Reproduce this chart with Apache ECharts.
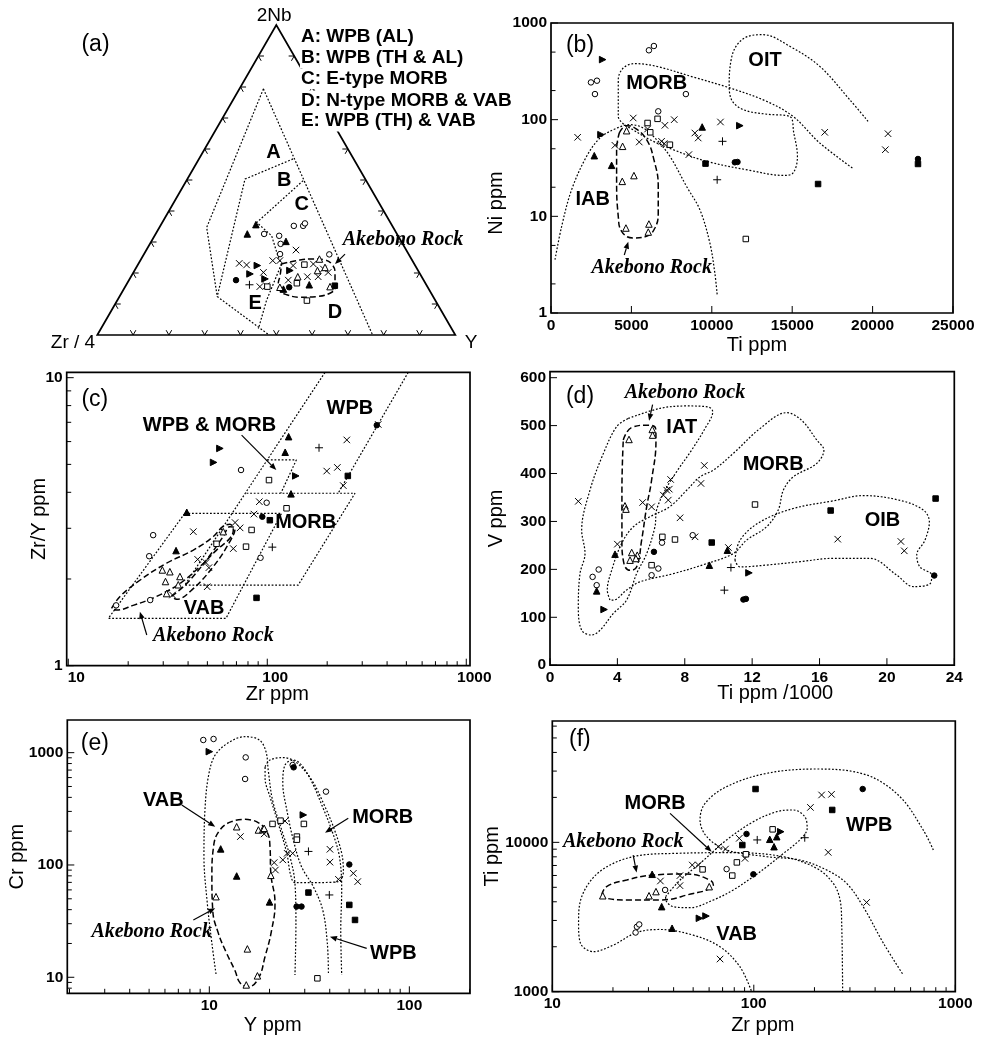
<!DOCTYPE html>
<html>
<head>
<meta charset="utf-8">
<script src="https://cdn.jsdelivr.net/npm/echarts@6/dist/echarts.min.js"></script>
<style>
  html, body { margin: 0; padding: 0; background: #fff; }
  #chart { width: 986px; height: 1040px; }
</style>
</head>
<body>
<div id="chart"></div>
<script>
// ======================= DATA =======================
// (a) Zr/4 - 2Nb - Y ternary; compositions as [2Nb, Zr/4, Y] in percent
const ptsA = {
  openCircle:   [[35.2,27.5,37.3],[35.2,24.9,39.9],[36.0,24.0,40.0],[32.0,33.2,34.8],[29.4,34.1,36.5],[26.1,35.9,38.0],[32.6,37.1,30.3],[26.0,22.2,51.8]],
  filledTri:    [[35.6,37.9,26.5],[32.6,41.8,25.6],[30.2,32.2,37.6],[16.2,32.7,51.1],[14.8,40.6,44.6]],
  filledRight:  [[22.4,44.1,33.5],[19.7,47.5,32.8],[18.1,44.1,37.8],[20.8,35.8,43.4]],
  cross:        [[27.4,30.8,41.8],[23.1,48.8,28.1],[22.6,47.0,30.4],[24.0,39.0,37.0],[24.0,37.0,39.0],[20.2,43.5,36.3],[15.6,46.8,37.6],[15.9,44.8,39.3],[22.4,34.1,43.5],[18.8,31.9,49.3],[18.8,28.9,52.3],[20.2,25.4,54.4],[22.9,28.2,48.9],[17.7,37.8,44.5],[21.3,26.2,52.5]],
  plus:         [[16.2,49.4,34.4]],
  filledCircle: [[17.7,52.4,29.9],[15.4,38.7,45.9]],
  openSq:       [[15.6,44.7,39.7],[22.7,30.8,46.5],[16.7,35.9,47.4],[11.1,35.9,53.0]],
  openTri:      [[18.8,34.6,46.6],[20.8,28.1,51.1],[24.5,25.7,49.8],[21.8,25.5,52.7],[15.6,27.2,57.2],[15.4,41.3,43.3]],
  filledSq:     [[15.9,25.7,58.4]]
};
const aOuterRight = [[79.4,13.9,6.7],[0,23.1,76.9]];
const aOuterLeft  = [[79.4,13.9,6.7],[34.7,52.1,13.2],[12.4,60.3,27.3],[0,52,48]];
const aFieldB     = [[56.8,16.9,26.3],[50.3,33.6,16.1],[12.4,60.3,27.3]];
const aFieldC     = [[49.8,17.6,32.6],[36.3,37.3,26.4],[32.0,35.3,32.7],[25.1,36.9,38.0],[22.9,37.1,40.0]];
const aFieldDE    = [[22.9,37.1,40.0],[11.1,47.2,41.7],[2,54,44]];
const aRock = [[22.9,37.1,40.0],[24.2,31.3,44.5],[24.5,27.4,48.1],[24.2,24.3,51.5],[22.9,23.1,54.0],[20.2,23.5,56.3],[15.4,25.9,58.7],[13.8,27.6,58.6],[12.4,32.5,55.1],[12.2,37.3,50.5],[13.0,40.6,46.4],[14.3,41.8,43.9],[16.5,41.2,42.3],[19.1,39.4,41.5],[22.9,37.1,40.0]];
const ternLegend = ['A: WPB (AL)', 'B: WPB (TH & AL)', 'C: E-type MORB', 'D: N-type MORB & VAB', 'E: WPB (TH) & VAB'];
const ternTicks = [0.1,0.2,0.3,0.4,0.5,0.6,0.7,0.8,0.9];

// (b) Ni vs Ti  [Ti ppm, Ni ppm]
const ptsB = {
  openCircle:   [[6089,522],[6399,578],[2485,243],[2858,253],[2734,184],[8388,184],[6669,122]],
  filledRight:  [[3210,418],[3107,70],[11743,86.7]],
  filledTri:    [[2692,42.4],[3769,33.7],[9402,84]],
  openTri:      [[4701,76.9],[4453,53],[4432,23],[5157,26.4],[4660,7.57],[6089,8.33],[6048,6.88]],
  cross:        [[1657,65.7],[3976,54.3],[5115,104],[5488,58.7],[6006,80],[6876,59.7],[7041,56.5],[7083,87.4],[7663,100],[8574,43.5],[8947,72.8],[9154,64.6],[10541,94.6],[17024,74],[20959,71.6],[20793,48.9]],
  openSq:       [[6006,92.4],[6172,74],[6627,102],[7394,55.1],[12115,5.83]],
  plus:         [[10665,59.7],[10334,23.9]],
  filledSq:     [[9609,35.1],[16609,21.6],[22822,34.8]],
  filledCircle: [[11432,36.2],[11598,36.5],[22822,39.2]]
};
const bMorbTop = [[4701,85.3],[4183,108],[4183,259],[4494,342],[5219,380],[6565,356],[8843,276],[11121,213],[13399,155],[15056,108],[16713,57.4],[18743,31.6]];
const bOitMorb = [[19716,96.1],[18577,161],[16713,356],[14849,574],[13192,757],[12260,728],[11577,597],[11225,434],[11080,239],[11225,161],[11950,127],[13399,114],[14849,108],[15098,72.8],[15326,41.8],[15056,28.1],[14435,26.5],[12364,29.9],[9672,37.1],[7601,48.9],[6151,62.1],[4908,82],[4701,85.3]];
const bIab = [[249,3.56],[663,7.88],[1284,18.9],[2216,41.8],[3044,64.6],[3976,80.1],[4908,88.8],[5737,82],[6565,62.1],[7394,41.8],[8429,20.4],[9258,11.7],[9879,5.3],[10189,2.59],[10334,1.55]];
const bRock = [[4246,72.8],[4701,86.7],[5219,82],[5944,62.1],[6399,38.6],[6669,20.4],[6669,10.8],[6462,7.57],[5944,6.21],[5115,5.97],[4391,7.0],[4183,10],[4080,23.9],[4080,48.9],[4246,72.8]];
const bTicksX = [0,5000,10000,15000,20000,25000];
const bTicksY = [1,10,100,1000];
const bMinorY = [2,5,20,50,200,500];

// (c) Zr/Y vs Zr  [Zr ppm, Zr/Y]
const ptsC = {
  filledRight:  [[57.8,5.68],[53.7,5.08],[139,4.56]],
  filledTri:    [[128,6.24],[123,5.51],[131.6,3.95],[39.4,3.41],[34.8,2.51]],
  openCircle:   [[73.8,4.78],[26.7,2.84],[25.5,2.40],[25.8,1.69],[17.4,1.62],[92.5,2.37],[99.3,3.68]],
  openTri:      [[60.1,2.92],[29.7,2.15],[32.4,2.12],[30.8,1.96],[36.4,2.04],[35.7,1.91],[31.2,1.78]],
  openSq:       [[102,4.41],[125,3.52],[83.4,2.96],[55.6,2.65],[78.2,2.59]],
  plus:         [[182,5.71],[106,2.58]],
  cross:        [[251,6.08],[361,6.88],[199,4.74],[225,4.88],[241,4.22],[91.2,3.71],[85.7,3.36],[42.5,2.92],[68.9,3.14],[73,3.01],[67.5,2.55],[44.7,2.34],[49.2,2.28],[50.9,2.19],[49.9,1.88],[33.4,1.76]],
  filledSq:     [[103,3.2],[88.3,1.72],[254,4.56]],
  filledCircle: [[94.4,3.29],[355,6.84]]
};
const cWpbLeft  = [[195,10.44],[38.5,1.905]];
const cWpbRight = [[511,10.44],[227,3.97]];
const cMorb     = [[78.7,3.97],[276,3.97],[143,1.905],[38.5,1.905]];
const cVab      = [[38.5,3.38],[118,3.38],[62,1.46],[15.9,1.46],[38.5,3.38]];
const cOverlap  = [[100,5.18],[140,5.18],[117,3.97]];
const cRockOuter = [[16.5,1.58],[18.2,1.74],[22.9,1.98],[31.2,2.27],[42.5,2.52],[53.6,2.81],[59.7,3.04],[64.9,3.10],[67.5,2.96],[64.9,2.77],[55.6,2.52],[45.9,2.21],[36.4,1.93],[27.8,1.74],[21.2,1.62],[17.5,1.56],[16.5,1.58]];
const cRockInner = [[33,1.74],[39.4,1.93],[49.5,2.33],[60.1,2.81],[64.9,3.04],[68.9,3.0],[64.9,2.70],[53.6,2.21],[41.7,1.83],[35,1.70],[33,1.74]];
const cTicksX = [10,100,1000];
const cMinorX = [20,30,40,50,60,70,80,90,200,300,400,500,600,700,800,900];
const cTicksY = [1,10];
const cMinorY = [2,3,4,5,6,7,8,9];

// (d) V vs Ti/1000  [Ti ppm/1000, V ppm]
const ptsD = {
  cross:        [[1.68,342],[4.0,252.6],[5.50,339.6],[6.03,330.5],[6.73,354.9],[6.93,365.3],[7.16,387.6],[7.08,367.4],[7.02,344.5],[7.72,307.6],[9.16,416.8],[8.96,379.3],[8.61,267.9],[10.59,245.6],[17.08,263],[20.83,258.2],[21.03,238.7]],
  openTri:      [[4.69,471.1],[6.07,492],[6.09,480.2],[4.45,332.6],[4.51,325.7],[4.85,235.2],[5.18,229.6],[4.75,219.2],[5.10,222.7]],
  openCircle:   [[2.53,184.3],[2.89,199.7],[2.77,167],[6.03,187.8],[6.43,201.7],[6.65,255.7],[8.47,271.3]],
  filledTri:    [[3.86,231.7],[2.77,155.1],[9.46,208.7],[10.53,240]],
  filledCircle: [[6.17,236.5],[11.48,137],[11.63,138.4],[22.81,187.1]],
  filledRight:  [[3.21,116.2],[11.81,192.7]],
  openSq:       [[6.67,267.8],[7.42,262.3],[6.03,208.7],[12.17,335.3]],
  plus:         [[10.74,203.8],[10.35,156.6]],
  filledSq:     [[9.60,256],[16.66,322.8],[22.89,347.8]]
};
const dIat = [[4.65,515],[6.53,536],[8.11,541],[9.40,539],[9.66,529],[9.20,494],[8.41,449],[7.52,404],[6.83,365],[6.33,324],[6.23,289],[5.74,233],[5.14,191],[4.55,136],[3.76,108],[2.97,73],[2.47,63],[1.88,73],[1.68,122],[1.78,191],[2.08,233],[1.88,282],[2.37,365],[3.17,442],[3.96,498],[4.65,515]];
const dMorb = [[3.56,136],[3.40,157],[3.66,198],[4.25,254],[4.95,289],[5.94,310],[7.12,331],[8.11,365],[8.90,393],[9.70,407],[10.88,442],[12.47,494],[14.05,527],[14.94,511],[15.83,470],[16.26,449],[15.83,421],[14.44,393],[13.85,365],[13.55,324],[12.86,289],[11.67,261],[10.88,233],[9.30,212],[7.32,191],[5.34,174],[4.55,157],[3.76,136],[3.56,136]];
const dOib = [[10.98,219],[11.28,261],[12.47,299],[14.44,327],[16.82,343],[18.60,354],[20.78,344],[22.16,324],[22.52,299],[22.26,261],[21.77,230],[21.96,205],[22.66,188],[22.56,170],[21.57,164],[20.58,188],[18.99,223],[16.82,223],[14.84,216],[12.86,209],[11.28,205],[10.98,219]];
const dRock = [[4.35,470],[4.85,496],[5.84,501],[6.27,494],[6.29,470],[6.03,386],[5.74,331],[5.44,261],[5.14,205],[4.75,198],[4.39,212],[4.27,261],[4.27,365],[4.35,470]];
const dTicksX = [0,4,8,12,16,20,24];
const dTicksY = [0,100,200,300,400,500,600];

// (e) Cr vs Y  [Y ppm, Cr ppm]
const ptsE = {
  openCircle:   [[9.33,1297],[10.5,1324],[15.2,908],[15.1,583],[26.1,776],[38.3,450]],
  filledCircle: [[26.4,740],[50.1,101],[27.3,42.6],[28.9,42.6]],
  filledRight:  [[10,1021],[29.5,279]],
  openTri:      [[13.7,219],[17.6,205],[18.5,207],[18.8,212],[20.3,80.9],[10.8,52.2],[15.5,17.9],[17.4,10.3],[15.3,8.55]],
  filledTri:    [[11.4,139],[13.7,79.8],[20,46.9]],
  cross:        [[14.3,179],[18.8,189],[23.9,246],[21.1,105],[21.4,90.2],[23.3,111],[24.5,127],[26.1,127],[40.1,138],[40.1,106],[44.2,74.5],[52.5,84.3],[55.2,71.1]],
  openSq:       [[20.7,232],[22.7,248],[29.7,232],[27.4,179],[27.4,168],[34.7,9.79]],
  plus:         [[31.3,132],[39.8,54.1]],
  filledSq:     [[31.3,56.8],[50.1,44.1],[53.5,32.4]]
};
const eVab  = [[10.8,10.7],[10.3,20.1],[9.77,45.6],[9.40,119],[9.51,309],[9.89,611],[10.7,953],[12.7,1253],[15.1,1388],[17.8,1297],[19.2,1021],[19.7,701],[20.7,379],[23.0,205],[25.3,119],[26.8,68.7],[27.1,30.3],[26.8,10.5]];
const eMorb = [[19.0,750],[20.1,861],[23.4,903],[27.3,815],[32.5,571],[37.2,354],[41.7,219],[45.9,127],[46.8,87.3],[44.2,71.1],[34.4,69.7],[26.8,69.7],[25.5,81.5],[24.4,127],[22.1,235],[20.1,406],[19.0,591],[19.0,750]];
const eWpb  = [[39.4,10.9],[38.9,20.1],[36.9,39.7],[33.1,64.1],[28.9,96.6],[26.3,167],[24.4,309],[23.3,533],[23.9,776],[26.3,861],[28.9,776],[32.5,552],[36.5,342],[40.9,205],[44.7,119],[45.9,59.8],[45.4,26.4],[45.9,10.5]];
const eRock = [[15.1,255],[17.2,243],[19.4,198],[20.1,146],[20.3,84.3],[21.3,45.6],[20.5,26.4],[19.0,15.3],[17.6,9.8],[15.7,8.26],[14.3,8.84],[13.4,11.6],[12.2,16.4],[11.1,24.6],[10.4,39.7],[10.3,78.7],[10.5,146],[11.3,205],[12.9,243],[15.1,255]];
const eTicksX = [10,100];
const eMinorX = [2,3,4,5,6,7,8,9,20,30,40,50,60,70,80,90,200];
const eTicksY = [10,100,1000];
const eMinorY = [8,9,20,30,40,50,60,70,80,90,200,300,400,500,600,700,800,900];

// (f) Ti vs Zr  [Zr ppm, Ti ppm]
const ptsF = {
  filledSq:     [[102,22750],[245,16480],[87.7,9590]],
  filledCircle: [[347,22750],[92,11380],[99.5,6110]],
  cross:        [[217,20760],[243,20960],[191,17140],[234,8570],[363,3960],[68,1655],[84.7,10640],[66.7,9350],[72.4,9020],[90.4,7810],[53.1,7050],[49.5,7050],[43,5990],[43,5130],[34.4,5510]],
  openCircle:   [[36.3,4800],[73.3,6620],[26.3,2720],[27.0,2820],[25.9,2490]],
  openSq:       [[124,12220],[91.4,8320],[82.4,7340],[78.2,5990],[55.7,6590]],
  openTri:      [[17.8,4390],[30.2,4390],[32.7,4680],[60.1,5050]],
  filledTri:    [[31.3,6110],[34.9,3710],[39.3,2660],[120,10480],[130,10910],[126,9350]],
  filledRight:  [[136,11780],[53.7,3100],[57.9,3210]],
  plus:         [[104,10380],[179,10740]]
};
const fWpb  = [[778,8890],[693,12100],[531,20230],[363,28250],[205,30980],[116,28980],[73.3,23610],[57.3,18240],[54.1,14130],[58.4,10910],[73.3,8890],[116,8020],[169,7620],[230,6530],[289,5310],[349,3710],[440,2110],[552,1293]];
const fMorb = [[36.5,4330],[43.1,5600],[54.1,7230],[73.3,10380],[99.4,13740],[130,16040],[157,16470],[179,14860],[184,12420],[169,10380],[137,8220],[116,6870],[99.4,5890],[79.1,4800],[63,4110],[48.2,3650],[39.8,3710],[36.9,4010],[36.5,4330]];
const fVab  = [[276,1000],[273,2870],[268,4110],[248,5310],[205,6700],[140,8020],[79.1,8530],[41.4,8440],[25.2,8020],[17.2,6370],[14.0,4330],[13.5,2870],[13.8,2110],[16.0,1854],[20.1,2054],[26.2,2490],[34.2,2610],[50.1,2390],[67.9,2000],[85.3,1470],[97.6,1000]];
const fRock = [[17.6,4440],[18.6,5050],[23.4,5600],[31.7,6040],[46.4,6140],[60.5,5600],[63,5180],[58.4,4800],[50.1,4550],[34.2,4110],[23.4,4110],[18.6,4220],[17.6,4440]];
const fTicksX = [10,100,1000];
const fMinorX = [20,30,40,50,60,70,80,90,200,300,400,500,600,700,800,900];
const fTicksY = [1000,10000];
const fMinorY = [2000,3000,4000,5000,6000,7000,8000,9000,20000,30000,40000,50000,60000];

// ======================= ANNOTATIONS (data coordinates) =======================
// ternary frame units: x along the Zr/4–Y base (0..1), y up to the 2Nb apex (0..√3/2)
const annA = [
  { t: '(a)', at: [-0.005, 0.811], k: 'panel' },
  { t: '2Nb', at: [0.494, 0.892], k: 'vertex' },
  { t: 'Zr / 4', at: [-0.068, -0.022], k: 'vertex' },
  { t: 'Y', at: [1.044, -0.022], k: 'vertex' },
  { t: ternLegend[0], at: [0.566, 0.834], k: 'legend' },
  { t: ternLegend[1], at: [0.566, 0.775], k: 'legend' },
  { t: ternLegend[2], at: [0.566, 0.716], k: 'legend' },
  { t: ternLegend[3], at: [0.566, 0.654], k: 'legend' },
  { t: ternLegend[4], at: [0.566, 0.598], k: 'legend' },
  { t: 'A', at: [0.492, 0.510], k: 'field' },
  { t: 'B', at: [0.522, 0.431], k: 'field' },
  { t: 'C', at: [0.571, 0.366], k: 'field' },
  { t: 'D', at: [0.664, 0.063], k: 'field' },
  { t: 'E', at: [0.441, 0.087], k: 'field' },
  { t: 'Akebono Rock', at: [0.854, 0.266], k: 'rock' },
  { arrow: [[0.692, 0.226], [0.664, 0.198]] }
];
const annB = [
  { t: '(b)', at: [1803, 578], k: 'panel' },
  { t: 'MORB', at: [6573, 238], k: 'field' },
  { t: 'OIT', at: [13309, 414], k: 'field' },
  { t: 'IAB', at: [2593, 14.8], k: 'field' },
  { t: 'Akebono Rock', at: [6262, 2.9], k: 'rock' },
  { arrow: [[4558, 3.98], [4807, 5.47]] }
];
const annC = [
  { t: '(c)', at: [13.6, 8.37], k: 'panel' },
  { t: 'WPB', at: [260, 7.83], k: 'field' },
  { t: 'WPB & MORB', at: [51.2, 6.81], k: 'field' },
  { t: 'MORB', at: [156, 3.14], k: 'field' },
  { t: 'VAB', at: [48.1, 1.58], k: 'field' },
  { t: 'Akebono Rock', at: [53.6, 1.27], k: 'rock' },
  { arrow: [[74.3, 6.32], [111, 4.78]] },
  { arrow: [[24.8, 1.278], [22.9, 1.54]] }
];
const annD = [
  { t: '(d)', at: [1.78, 560.9], k: 'panel' },
  { t: 'IAT', at: [7.82, 497], k: 'field' },
  { t: 'MORB', at: [13.25, 418], k: 'field' },
  { t: 'OIB', at: [19.74, 301], k: 'field' },
  { t: 'Akebono Rock', at: [8.01, 568], k: 'rock' },
  { arrow: [[6.09, 543.6], [5.88, 510.1]] }
];
const annE = [
  { t: '(e)', at: [2.68, 1213], k: 'panel' },
  { t: 'VAB', at: [5.89, 379], k: 'field' },
  { t: 'MORB', at: [73.6, 266], k: 'field' },
  { t: 'WPB', at: [83.2, 16.4], k: 'field' },
  { t: 'Akebono Rock', at: [5.15, 25.5], k: 'rock' },
  { arrow: [[7.28, 342], [10.7, 219]] },
  { arrow: [[49.5, 261], [37.9, 194]] },
  { arrow: [[61.2, 18.1], [40.1, 23]] },
  { arrow: [[8.32, 32.4], [10.7, 41.2]] }
];
const annF = [
  { t: '(f)', at: [13.7, 48400], k: 'panel' },
  { t: 'MORB', at: [32.4, 18240], k: 'field' },
  { t: 'WPB', at: [374, 13060], k: 'field' },
  { t: 'VAB', at: [82.2, 2420], k: 'field' },
  { t: 'Akebono Rock', at: [22.5, 10090], k: 'rock' },
  { arrow: [[38.4, 15630], [61.8, 8650]] },
  { arrow: [[25.2, 8220], [26.2, 6270]] }
];

// ======================= STYLE HELPERS =======================
const SANS = '"Liberation Sans", Arial, Helvetica, sans-serif';
const SERIF = '"Liberation Serif", "Times New Roman", serif';
const SQ3 = Math.sqrt(3) / 2;

const SYMBOLS = {
  openCircle:   { symbol: 'circle', size: 5.5, fill: '#fff' },
  filledCircle: { symbol: 'circle', size: 5.5, fill: '#000' },
  openTri:      { symbol: 'triangle', size: 6.5, fill: '#fff' },
  filledTri:    { symbol: 'triangle', size: 6.5, fill: '#000' },
  openSq:       { symbol: 'rect', size: 5.5, fill: '#fff' },
  filledSq:     { symbol: 'rect', size: 5.5, fill: '#000' },
  cross:        { symbol: 'path://M0,0L10,10M10,0L0,10', size: 6.5, fill: 'rgba(0,0,0,0)' },
  plus:         { symbol: 'path://M5,0L5,10M0,5L10,5', size: 8, fill: 'rgba(0,0,0,0)' },
  filledRight:  { symbol: 'triangle', size: 6.5, fill: '#000', rotate: -90 }
};

const TEXT_KINDS = {
  panel:  { font: '23px ' + SANS, align: 'center' },
  vertex: { font: '19px ' + SANS, align: 'center' },
  field:  { font: 'bold 20px ' + SANS, align: 'center' },
  legend: { font: 'bold 19px ' + SANS, align: 'left', bg: '#fff' },
  rock:   { font: 'italic bold 20px ' + SERIF, align: 'center' }
};

// ternary composition -> frame coordinates
function tern(p) {
  const s = p[0] + p[1] + p[2];
  const a = p[0] / s, c = p[2] / s;
  return [c + a / 2, a * SQ3];
}

function scatterSeries(gi, pts, map) {
  return Object.keys(pts).map(function (k) {
    const s = SYMBOLS[k];
    return {
      type: 'scatter', xAxisIndex: gi, yAxisIndex: gi, z: 3, silent: true,
      symbol: s.symbol, symbolSize: s.size, symbolRotate: s.rotate || 0,
      itemStyle: { color: s.fill, borderColor: '#000', borderWidth: 1, opacity: 1 },
      data: map ? pts[k].map(map) : pts[k]
    };
  });
}

function curve(gi, pts, kind, smooth, map) {
  return {
    type: 'line', xAxisIndex: gi, yAxisIndex: gi, z: 2, silent: true,
    showSymbol: false, symbol: 'none', smooth: smooth,
    lineStyle: kind === 'rock'
      ? { color: '#000', width: 1.5, type: [6, 3] }
      : { color: '#000', width: 1.2, type: [1.8, 1.8] },
    data: map ? pts.map(map) : pts
  };
}

function arrowShape(p1, p2) {
  const dx = p2[0] - p1[0], dy = p2[1] - p1[1];
  const len = Math.hypot(dx, dy) || 1, ux = dx / len, uy = dy / len;
  const hl = 7, hw = 2.8;
  const bx = p2[0] - ux * hl, by = p2[1] - uy * hl;
  return {
    type: 'group',
    children: [
      { type: 'line', shape: { x1: p1[0], y1: p1[1], x2: bx, y2: by }, style: { stroke: '#000', lineWidth: 1.2 } },
      { type: 'polygon', shape: { points: [[p2[0], p2[1]], [bx - uy * hw, by + ux * hw], [bx + uy * hw, by - ux * hw]] }, style: { fill: '#000' } }
    ]
  };
}

function annotations(gi, items) {
  return {
    type: 'custom', xAxisIndex: gi, yAxisIndex: gi, z: 6, silent: true, clip: false,
    data: items.map(function (it) { return it.at || it.arrow[0]; }),
    renderItem: function (params, api) {
      const it = items[params.dataIndex];
      if (it.arrow) return arrowShape(api.coord(it.arrow[0]), api.coord(it.arrow[1]));
      const p = api.coord(it.at);
      const st = TEXT_KINDS[it.k];
      const style = {
        text: it.t, font: st.font, fill: '#000',
        align: st.align, textAlign: st.align,
        verticalAlign: 'middle', textVerticalAlign: 'middle'
      };
      if (st.bg) { style.backgroundColor = st.bg; style.padding = [1, 3, 1, 1]; }
      return { type: 'text', x: p[0], y: p[1], style: style };
    }
  };
}

// ticks (inside) and tick labels drawn through the axis scales
function axisDecor(gi, spec) {
  return {
    type: 'custom', xAxisIndex: gi, yAxisIndex: gi, z: 5, silent: true, clip: false,
    data: [[spec.xMin, spec.yMin]],
    renderItem: function (params, api) {
      const kids = [];
      const font = 'bold 15.5px ' + SANS;
      function tick(x1, y1, x2, y2) {
        kids.push({ type: 'line', shape: { x1: x1, y1: y1, x2: x2, y2: y2 }, style: { stroke: '#000', lineWidth: 1 } });
      }
      spec.xMajor.forEach(function (v) {
        const p = api.coord([v, spec.yMin]);
        tick(p[0], p[1], p[0], p[1] - 7);
        kids.push({ type: 'text', x: p[0] + (spec.xLabelDx || 0), y: p[1] + 4.5,
          style: { text: String(v), font: font, fill: '#000', align: 'center', textAlign: 'center', verticalAlign: 'top', textVerticalAlign: 'top' } });
      });
      (spec.xMinor || []).forEach(function (v) {
        const p = api.coord([v, spec.yMin]);
        tick(p[0], p[1], p[0], p[1] - 4.5);
      });
      spec.yMajor.forEach(function (v) {
        const p = api.coord([spec.xMin, v]);
        tick(p[0], p[1], p[0] + 7, p[1]);
        kids.push({ type: 'text', x: p[0] - 4, y: p[1],
          style: { text: String(v), font: font, fill: '#000', align: 'right', textAlign: 'right', verticalAlign: 'middle', textVerticalAlign: 'middle' } });
      });
      (spec.yMinor || []).forEach(function (v) {
        const p = api.coord([spec.xMin, v]);
        tick(p[0], p[1], p[0] + 4.5, p[1]);
      });
      return { type: 'group', children: kids };
    }
  };
}

// triangle outline with inward ticks every 10 %
function ternFrame() {
  return {
    type: 'custom', xAxisIndex: 0, yAxisIndex: 0, z: 5, silent: true, clip: false,
    data: [[0, 0]],
    renderItem: function (params, api) {
      const c = function (x, y) { return api.coord([x, y]); };
      const kids = [{ type: 'polygon', shape: { points: [c(0, 0), c(1, 0), c(0.5, SQ3)] }, style: { fill: 'none', stroke: '#000', lineWidth: 1.7 } }];
      const k = 0.0155;
      function seg(p, q) {
        const a = c(p[0], p[1]), b = c(q[0], q[1]);
        kids.push({ type: 'line', shape: { x1: a[0], y1: a[1], x2: b[0], y2: b[1] }, style: { stroke: '#000', lineWidth: 1 } });
      }
      ternTicks.forEach(function (t) {
        let p = [t, 0];
        seg(p, [t + k / 2, k * SQ3]); seg(p, [t - k / 2, k * SQ3]);
        p = [t / 2, t * SQ3];
        seg(p, [p[0] + k, p[1]]); seg(p, [p[0] + k / 2, p[1] - k * SQ3]);
        p = [1 - t / 2, t * SQ3];
        seg(p, [p[0] - k, p[1]]); seg(p, [p[0] - k / 2, p[1] - k * SQ3]);
      });
      return { type: 'group', children: kids };
    }
  };
}

// ======================= LAYOUT =======================
const frame = { show: true, borderColor: '#000', borderWidth: 1.7, backgroundColor: 'transparent' };
const grids = [
  { left: 97.3, top: 25, width: 358, height: 310, show: false },
  Object.assign({ left: 551, top: 23, width: 402, height: 290 }, frame),
  Object.assign({ left: 66.7, top: 372.3, width: 403.3, height: 293.4 }, frame),
  Object.assign({ left: 550, top: 371.7, width: 404.3, height: 293.5 }, frame),
  Object.assign({ left: 67.3, top: 720, width: 402.7, height: 273.3 }, frame),
  Object.assign({ left: 552.3, top: 721, width: 403, height: 270.7 }, frame)
];

function mkAxis(gi, type, min, max, name, gap, padding) {
  const ax = {
    gridIndex: gi, type: type, min: min, max: max,
    name: name, nameLocation: 'middle', nameGap: gap,
    nameTextStyle: { fontFamily: SANS, fontSize: 20, color: '#000', padding: padding || 0 },
    axisLine: { show: false }, axisTick: { show: false }, axisLabel: { show: false }, splitLine: { show: false }
  };
  if (type === 'log') ax.logBase = 10;
  return ax;
}

const xAxes = [
  { gridIndex: 0, type: 'value', min: 0, max: 1, show: false },
  mkAxis(1, 'value', 0, 25000, 'Ti ppm', 22, [0, 0, 0, 10]),
  mkAxis(2, 'log', 9.82, 1044, 'Zr ppm', 19, [0, 0, 0, 18]),
  mkAxis(3, 'value', 0, 24, 'Ti ppm /1000', 18.5, [0, 0, 0, 46]),
  mkAxis(4, 'log', 1.95, 201, 'Y ppm', 22.5, [0, 0, 0, 8]),
  mkAxis(5, 'log', 10, 1000, 'Zr ppm', 24, [0, 0, 0, 18])
];
const yAxes = [
  { gridIndex: 0, type: 'value', min: 0, max: SQ3, show: false },
  mkAxis(1, 'log', 1, 1000, 'Ni ppm', 45, [0, 70, 0, 0]),
  mkAxis(2, 'log', 1, 10.44, 'Zr/Y ppm', 17),
  mkAxis(3, 'value', 0, 612.5, 'V ppm', 44),
  mkAxis(4, 'log', 7.2, 1954, 'Cr ppm', 40),
  mkAxis(5, 'log', 1000, 64930, 'Ti ppm', 50)
];

const series = [].concat(
  // (a)
  [ternFrame()],
  [aOuterRight, aOuterLeft, aFieldB, aFieldC, aFieldDE].map(function (d) { return curve(0, d, 'field', false, tern); }),
  [curve(0, aRock, 'rock', 0.45, tern)],
  scatterSeries(0, ptsA, tern),
  [annotations(0, annA)],
  // (b)
  [curve(1, bMorbTop, 'field', 0.35), curve(1, bOitMorb, 'field', 0.35), curve(1, bIab, 'field', 0.35), curve(1, bRock, 'rock', 0.45)],
  scatterSeries(1, ptsB),
  [annotations(1, annB), axisDecor(1, { xMin: 0, yMin: 1, xMajor: bTicksX, yMajor: bTicksY, yMinor: bMinorY })],
  // (c)
  [cWpbLeft, cWpbRight, cMorb, cVab, cOverlap].map(function (d) { return curve(2, d, 'field', false); }),
  [curve(2, cRockOuter, 'rock', 0.4), curve(2, cRockInner, 'rock', 0.4)],
  scatterSeries(2, ptsC),
  [annotations(2, annC), axisDecor(2, { xMin: 9.82, yMin: 1, xMajor: cTicksX, xMinor: cMinorX, yMajor: cTicksY, yMinor: cMinorY, xLabelDx: 8 })],
  // (d)
  [curve(3, dIat, 'field', 0.35), curve(3, dMorb, 'field', 0.35), curve(3, dOib, 'field', 0.35), curve(3, dRock, 'rock', 0.45)],
  scatterSeries(3, ptsD),
  [annotations(3, annD), axisDecor(3, { xMin: 0, yMin: 0, xMajor: dTicksX, yMajor: dTicksY })],
  // (e)
  [curve(4, eVab, 'field', 0.35), curve(4, eMorb, 'field', 0.35), curve(4, eWpb, 'field', 0.35), curve(4, eRock, 'rock', 0.45)],
  scatterSeries(4, ptsE),
  [annotations(4, annE), axisDecor(4, { xMin: 1.95, yMin: 7.2, xMajor: eTicksX, xMinor: eMinorX, yMajor: eTicksY, yMinor: eMinorY })],
  // (f)
  [curve(5, fWpb, 'field', 0.35), curve(5, fMorb, 'field', 0.35), curve(5, fVab, 'field', 0.35), curve(5, fRock, 'rock', 0.45)],
  scatterSeries(5, ptsF),
  [annotations(5, annF), axisDecor(5, { xMin: 10, yMin: 1000, xMajor: fTicksX, xMinor: fMinorX, yMajor: fTicksY, yMinor: fMinorY })]
);

const chart = echarts.init(document.getElementById('chart'), null, { renderer: 'canvas' });
chart.setOption({
  animation: false,
  backgroundColor: '#fff',
  textStyle: { fontFamily: SANS },
  grid: grids,
  xAxis: xAxes,
  yAxis: yAxes,
  series: series
});
</script>
</body>
</html>
